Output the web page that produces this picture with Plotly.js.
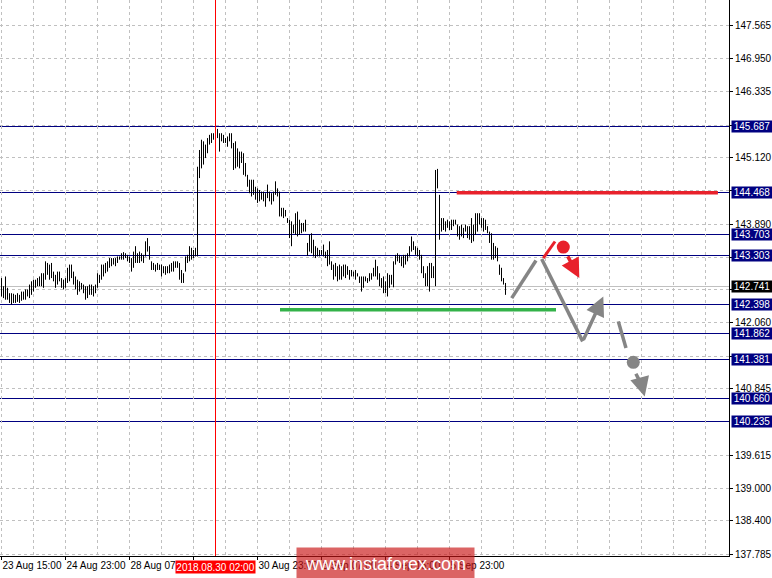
<!DOCTYPE html>
<html><head><meta charset="utf-8">
<script src="https://cdn.plot.ly/plotly-3.0.1.min.js"></script>
<style>
html,body{margin:0;padding:0;background:#fff}
#chart{width:772px;height:578px}
#chart .shapelayer path, #chart .gridlayer path, #chart .minor-gridlayer path, #chart .xlines-above, #chart .ylines-above, #chart .xtick, #chart .ytick { shape-rendering: crispEdges; }
</style>
</head><body><div id="chart"></div>
<script>
// ---- H1 bars (high / low), one per hour ----
const barHigh = [
142.89,142.74,142.92,142.71,142.61,142.61,142.60,142.58,142.61,142.58,
142.64,142.64,142.68,142.68,142.77,142.83,142.86,142.86,142.89,142.92,
142.98,142.98,143.20,143.17,143.14,143.17,143.01,142.95,143.01,143.01,
142.89,142.86,142.89,143.08,143.14,143.14,143.01,142.92,142.86,142.83,
142.80,142.77,142.74,142.74,142.77,142.77,142.74,142.77,142.98,142.95,
143.14,143.14,143.17,143.20,143.26,143.26,143.26,143.26,143.29,143.29,
143.35,143.37,143.35,143.32,143.29,143.26,143.38,143.48,143.35,143.38,
143.35,143.32,143.57,143.63,143.48,143.20,143.17,143.14,143.17,143.14,
143.14,143.11,143.11,143.11,143.14,143.17,143.20,143.20,143.20,143.17,
143.04,142.98,143.29,143.32,143.48,143.45,143.41,143.45,144.95,145.26,
145.45,145.42,145.36,145.48,145.54,145.57,145.57,145.63,145.65,145.57,
145.57,145.54,145.48,145.51,145.57,145.57,145.39,145.42,145.29,145.23,
145.23,145.20,145.02,144.80,144.71,144.71,144.71,144.58,144.55,144.52,
144.49,144.49,144.46,144.62,144.49,144.46,144.49,144.68,144.55,144.49,
144.19,144.19,144.15,144.00,143.97,143.94,143.88,144.09,144.12,143.97,
143.91,143.91,143.97,143.54,143.69,143.72,143.60,143.48,143.45,143.41,
143.41,143.51,143.38,143.41,143.57,143.20,143.14,143.17,143.11,143.14,
143.11,143.14,143.14,143.11,143.04,143.04,143.01,143.04,142.98,142.92,
142.92,142.92,142.92,142.89,142.98,142.98,143.08,143.23,143.11,142.98,
142.89,142.92,142.83,142.98,142.95,142.95,143.20,143.32,143.35,143.32,
143.29,143.32,143.32,143.35,143.48,143.66,143.57,143.48,143.45,143.41,
143.32,143.11,142.98,143.11,143.17,143.17,143.11,144.89,144.91,144.43,
144.00,144.00,143.94,143.97,143.94,143.97,143.97,143.97,143.88,143.85,
143.88,143.82,143.88,143.85,143.85,144.00,143.88,144.09,144.09,144.09,
144.00,144.00,143.97,143.85,143.75,143.72,143.54,143.48,143.45,143.14,
143.08,142.89,142.80];
const barLow = [
142.55,142.52,142.49,142.49,142.43,142.40,142.43,142.43,142.45,142.43,
142.47,142.49,142.49,142.55,142.52,142.58,142.64,142.71,142.74,142.74,
142.74,142.71,142.86,142.95,142.86,142.89,142.83,142.71,142.77,142.83,
142.71,142.68,142.71,142.80,142.83,142.89,142.77,142.68,142.58,142.64,
142.68,142.61,142.49,142.52,142.58,142.58,142.55,142.61,142.71,142.80,
142.86,142.92,142.98,143.01,143.08,143.11,143.14,143.11,143.17,143.23,
143.23,143.23,143.26,143.20,143.17,143.01,143.08,143.17,143.17,143.17,
143.20,143.17,143.29,143.38,143.23,143.04,143.04,143.01,143.04,143.04,
142.92,142.98,142.95,142.98,142.98,143.01,143.01,143.08,143.08,142.86,
142.80,142.80,143.01,143.17,143.20,143.23,143.26,143.29,143.29,144.74,
144.92,144.99,145.11,145.20,145.36,145.39,145.45,145.45,145.48,145.23,
145.42,145.39,145.39,145.32,145.42,145.29,144.89,144.92,144.95,144.92,
145.02,144.80,144.77,144.58,144.46,144.40,144.43,144.34,144.28,144.31,
144.34,144.31,144.21,144.37,144.31,144.25,144.31,144.43,144.40,144.03,
144.03,144.00,144.03,143.91,143.63,143.48,143.72,143.69,143.66,143.69,
143.72,143.75,143.75,143.30,143.38,143.35,143.29,143.26,143.29,143.29,
143.32,143.29,143.26,143.11,143.14,143.04,142.86,142.92,142.83,142.86,
142.86,142.92,142.89,142.95,142.86,142.92,142.92,142.86,142.92,142.80,
142.64,142.71,142.83,142.80,142.83,142.86,142.92,142.92,142.86,142.74,
142.71,142.61,142.61,142.55,142.71,142.77,142.72,143.14,143.20,143.17,
143.11,143.08,143.14,143.20,143.29,143.38,143.41,143.32,143.29,143.23,
142.98,142.89,142.74,142.74,142.64,142.89,142.89,142.74,144.55,143.60,
143.75,143.78,143.75,143.82,143.78,143.78,143.85,143.88,143.66,143.60,
143.66,143.63,143.75,143.63,143.60,143.54,143.57,143.69,143.75,143.88,
143.82,143.75,143.78,143.72,143.54,143.23,143.23,143.26,143.20,142.95,
142.83,142.77,142.58];

// ---- levels and labels ----
const levelPrices = [145.687, 144.468, 143.703, 143.303, 142.398, 141.862, 141.381, 140.660, 140.235];
const lastPrice = 142.741;
const priceTicks = [147.565,146.950,146.335,145.720,145.120,144.505,143.890,143.275,142.675,142.060,141.445,140.845,139.615,139.000,138.400,137.785];
// labels hidden behind the price tags in the original are left empty
const priceTickText = ['147.565','146.950','146.335','','145.120','','143.890','','','142.060','','140.845','139.615','139.000','138.400','137.785'];
const timeTickBars = [0,32,64,96,128,160,192,224];
const timeTickLabels = ['23 Aug 15:00','24 Aug 23:00','28 Aug 07:00','29 Aug 15:00','30 Aug 23:00','3 Sep 07:00','4 Sep 15:00','5 Sep 23:00'];
const crosshairBar = 107;
const crosshairLabel = '2018.08.30 02:00';

// ---- analyst drawings (bar index, price) ----
const resistX = [227.6, 358.2], resistY = [144.468, 144.468];
const supportX = [139.25, 277.25], supportY = [142.305, 142.305];
const grayUpX = [255.1, 267.25], grayUpY = [142.52, 143.216];
const grayDownX = [270.1, 290.6], grayDownY = [143.242, 141.719];
const grayArrowTail = [290.6, 141.719], grayArrowTip = [300.9, 142.551];
const redLineX = [270.9, 276.75], redLineY = [143.26, 143.567];
const redDot = [280.9, 143.464];
const redArrowTail = [282.75, 143.32], redArrowTip = [288.9, 142.891];
const dashSegX = [308.4, 312.25], dashSegY = [142.089, 141.597];
const grayDot = [315.9, 141.331];
const dashArrowX = [317.2, 320.0], dashArrowY = [141.12, 140.92];
const dashArrowTail = [320.0, 140.92], dashArrowTip = [321.6, 140.70];

const font = 'Liberation Sans, Arial, sans-serif';
const navy = '#000080', red = '#e8212b', gray = '#858585';

const bx = [], by = [];
for (let i = 0; i < barHigh.length; i++) { bx.push(i, i, null); by.push(barLow[i], barHigh[i], null); }

const traces = [
  {x: bx, y: by, type: 'scatter', mode: 'lines', line: {color: '#000', width: 1}, hoverinfo: 'skip'},
  {x: resistX, y: resistY, mode: 'lines', line: {color: red, width: 3.5}, hoverinfo: 'skip'},
  {x: supportX, y: supportY, mode: 'lines', line: {color: '#33b249', width: 3.5}, hoverinfo: 'skip'},
  {x: grayUpX, y: grayUpY, mode: 'lines', line: {color: gray, width: 3.5}, hoverinfo: 'skip'},
  {x: grayDownX, y: grayDownY, mode: 'lines', line: {color: gray, width: 3.5}, hoverinfo: 'skip'},
  {x: redLineX, y: redLineY, mode: 'lines', line: {color: red, width: 3}, hoverinfo: 'skip'},
  {x: [redDot[0]], y: [redDot[1]], mode: 'markers', marker: {color: red, size: 13}, hoverinfo: 'skip'},
  {x: dashSegX, y: dashSegY, mode: 'lines', line: {color: gray, width: 3.5}, hoverinfo: 'skip'},
  {x: [grayDot[0]], y: [grayDot[1]], mode: 'markers', marker: {color: gray, size: 13}, hoverinfo: 'skip'},
  {x: dashArrowX, y: dashArrowY, mode: 'lines', line: {color: gray, width: 3.5, dash: '6px,4px'}, hoverinfo: 'skip'}
];

const shapes = [];
shapes.push({type: 'line', xref: 'paper', x0: 0, x1: 1, y0: lastPrice, y1: lastPrice, line: {color: '#c0c0c0', width: 1}, layer: 'between'});
levelPrices.forEach(p => shapes.push({type: 'line', xref: 'paper', x0: 0, x1: 1, y0: p, y1: p, line: {color: navy, width: 1}, layer: 'between'}));
shapes.push({type: 'line', xref: 'x', yref: 'paper', x0: crosshairBar, x1: crosshairBar, y0: 0, y1: 1, line: {color: '#ff0000', width: 1}});

const annotations = [];
levelPrices.forEach(p => annotations.push({
  xref: 'paper', x: 1, xanchor: 'left', xshift: 2, yref: 'y', y: p, yanchor: 'middle',
  text: p.toFixed(3), showarrow: false, bgcolor: navy, borderpad: 0, width: 40, height: 11,
  font: {family: font, size: 10, color: '#fff'}
}));
annotations.push({
  xref: 'paper', x: 1, xanchor: 'left', xshift: 2, yref: 'y', y: lastPrice, yanchor: 'middle',
  text: lastPrice.toFixed(3), showarrow: false, bgcolor: '#000', borderpad: 0, width: 40, height: 11,
  font: {family: font, size: 10, color: '#fff'}
});
annotations.push({
  xref: 'x', x: crosshairBar, yref: 'paper', y: 0, yanchor: 'top', yshift: -4,
  text: crosshairLabel, showarrow: false, bgcolor: '#ff0000', borderpad: 0, width: 79, height: 12,
  font: {family: font, size: 10, color: '#fff'}
});
function arrow(tail, tip, color) {
  return {xref: 'x', yref: 'y', axref: 'x', ayref: 'y', x: tip[0], y: tip[1], ax: tail[0], ay: tail[1],
    text: '', showarrow: true, arrowhead: 2, arrowsize: 1.1, arrowwidth: 3.5, arrowcolor: color, standoff: 0, startstandoff: 0};
}
annotations.push(arrow(grayArrowTail, grayArrowTip, gray));
annotations.push(arrow(redArrowTail, redArrowTip, red));
annotations.push(arrow(dashArrowTail, dashArrowTip, gray));
annotations.push({
  xref: 'paper', x: 386 / 729, xanchor: 'center', yref: 'paper', y: -0.013, yanchor: 'middle',
  text: 'www.instaforex.com', showarrow: false, bgcolor: 'rgba(200,20,20,0.66)', borderpad: 0, width: 177, height: 31,
  font: {family: font, size: 18, color: '#fff'}
});

const layout = {
  width: 772, height: 578,
  margin: {l: 0, r: 43, t: 0, b: 22, pad: 0},
  paper_bgcolor: '#fff', plot_bgcolor: '#fff',
  showlegend: false,
  font: {family: font, size: 10, color: '#000'},
  xaxis: {
    range: [-0.75, 363.75], tickmode: 'array', tickvals: timeTickBars, ticktext: timeTickLabels,
    tickangle: 0, automargin: false,
    ticks: 'outside', ticklen: 3, tickcolor: '#000', ticklabelposition: 'outside right',
    showline: true, linecolor: '#000', linewidth: 1, zeroline: false,
    showgrid: true, gridcolor: '#c0c0c0', griddash: 'dot', gridwidth: 1,
    minor: {tickmode: 'linear', tick0: 0, dtick: 16, showgrid: true, gridcolor: '#c0c0c0', griddash: 'dot', ticks: ''},
    tickfont: {family: font, size: 10, color: '#000'}, fixedrange: true
  },
  yaxis: {
    range: [137.748, 148.035], side: 'right', tickmode: 'array', tickvals: priceTicks, ticktext: priceTickText,
    automargin: false,
    ticks: 'outside', ticklen: 3, tickcolor: '#000',
    showline: true, linecolor: '#000', linewidth: 1, zeroline: false,
    showgrid: true, gridcolor: '#c0c0c0', griddash: 'dot', gridwidth: 1,
    tickfont: {family: font, size: 10, color: '#000'}, fixedrange: true
  },
  shapes: shapes,
  annotations: annotations
};

Plotly.newPlot('chart', traces, layout, {displayModeBar: false, staticPlot: true});
</script>
</body></html>
